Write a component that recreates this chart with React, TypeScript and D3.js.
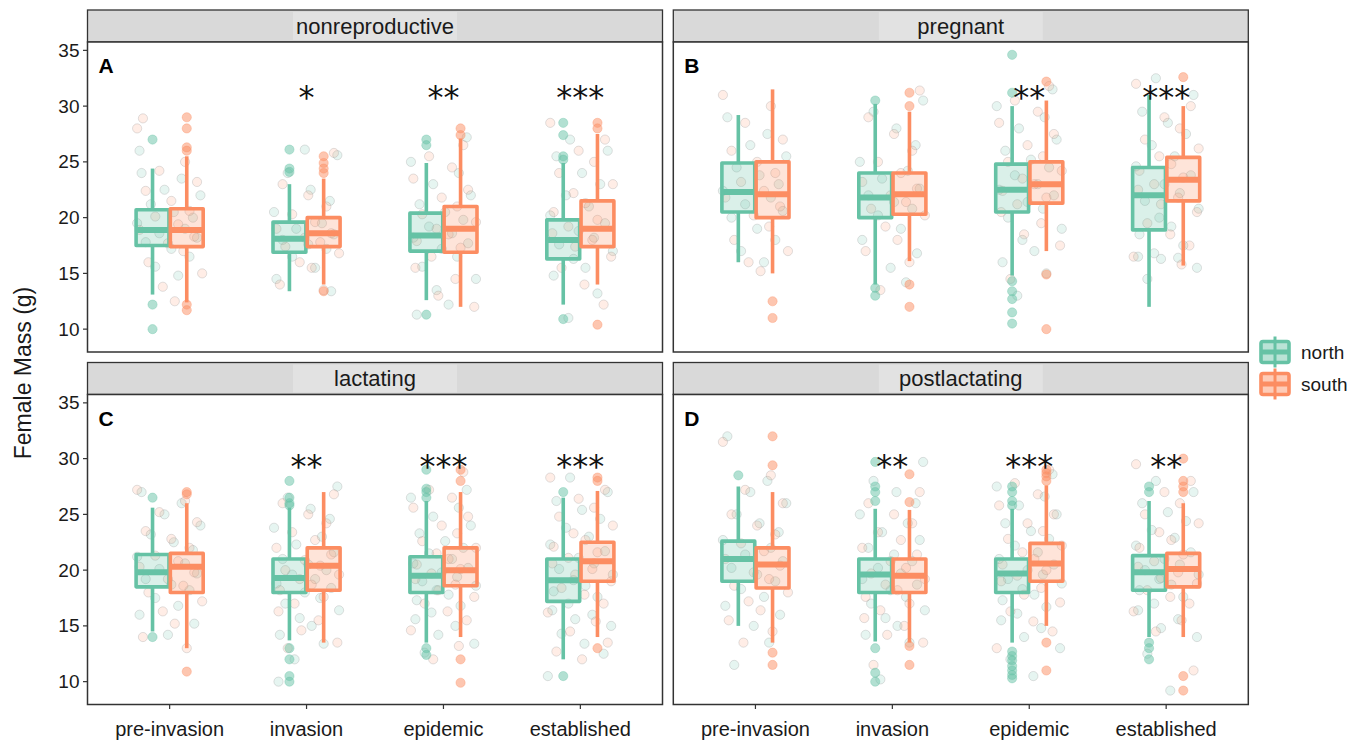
import * as d3 from "d3";

const facets = ["nonreproductive", "pregnant", "lactating", "postlactating"];
const facetTags = ["A", "B", "C", "D"];
const stages = ["pre-invasion", "invasion", "epidemic", "established"];
const regions = ["north", "south"];
const regionColors = ["#66c2a5", "#fc8d62"];
const yTicks = [10, 15, 20, 25, 30, 35];

// box stats per facet and stage: [lower whisker, q1, median, q3, upper whisker]
const northBoxes = [
  [[13.1, 17.5, 18.9, 20.7, 24.4], [13.4, 16.9, 18.1, 19.6, 23.0], [12.6, 17.0, 18.4, 20.4, 24.9], [12.2, 16.3, 18.0, 19.8, 24.9]],
  [[16.0, 20.5, 22.3, 24.9, 29.2], [14.0, 20.0, 21.8, 24.0, 30.2], [14.8, 20.5, 22.5, 24.8, 30.0], [12.0, 18.9, 22.0, 24.5, 31.0]],
  [[14.5, 18.5, 19.8, 21.4, 25.6], [13.7, 18.0, 19.3, 21.0, 25.6], [13.5, 18.0, 19.5, 21.2, 26.2], [12.0, 17.2, 19.1, 21.0, 26.5]],
  [[15.0, 19.0, 21.0, 22.6, 27.5], [13.6, 18.0, 19.6, 21.0, 25.5], [13.5, 18.0, 19.7, 21.0, 25.5], [14.0, 18.2, 19.8, 21.3, 26.2]],
];
const southBoxes = [
  [[12.4, 17.4, 18.9, 20.8, 25.5], [14.0, 17.4, 18.6, 20.0, 23.5], [12.0, 16.9, 19.0, 21.0, 27.1], [14.0, 17.4, 19.0, 21.5, 27.5]],
  [[15.0, 20.0, 22.1, 25.0, 31.5], [16.1, 20.3, 22.1, 24.0, 29.5], [17.0, 21.3, 23.0, 25.0, 30.5], [15.7, 21.5, 23.4, 25.4, 30.0]],
  [[13.0, 18.0, 20.3, 21.5, 26.0], [13.5, 18.2, 20.4, 22.0, 27.0], [14.0, 18.6, 20.0, 22.0, 27.0], [14.0, 19.0, 20.8, 22.5, 27.1]],
  [[13.5, 18.4, 20.5, 22.0, 27.0], [13.5, 18.0, 19.5, 21.0, 25.4], [15.0, 19.0, 20.6, 22.4, 27.6], [14.0, 18.5, 20.1, 21.5, 26.0]],
];

const northOutliers = [
  [[27.0, 12.2, 10.0], [26.1, 24.4, 24.1], [27.0, 26.5, 11.3], [28.5, 27.4, 25.5, 25.2, 10.9]],
  [[], [30.5, 13.7, 13.0], [34.6, 31.2, 14.3, 13.4, 12.7, 11.5, 10.5], []],
  [[26.5, 14.0], [28.0, 26.5, 26.0, 25.8, 13.0, 12.0, 10.5, 10.0], [29.0, 27.3, 27.0, 26.5, 13.0, 12.4], [27.0, 10.5]],
  [[28.5], [29.7, 27.5, 27.0, 26.2, 13.0, 10.8, 10.0], [27.5, 27.0, 26.2, 25.8, 12.7, 12.3, 11.9, 11.4, 11.0, 10.6, 10.3], [27.5, 27.0, 13.5, 13.0, 12.0]],
];
const southOutliers = [
  [[29.0, 28.0, 26.3, 26.0, 12.2, 11.7], [25.5, 24.9, 24.4, 24.0, 13.4], [28.0, 27.4], [28.5, 28.0, 10.4]],
  [[12.5, 11.0], [31.2, 30.0, 14.0, 12.0], [32.2, 14.9, 10.0], [32.6]],
  [[27.0, 26.8, 10.9], [], [29.0, 28.0, 12.0, 9.9], [28.3, 28.0, 13.0]],
  [[32.0, 29.4, 12.6, 11.5], [28.6, 26.1, 13.2, 11.5], [29.0, 28.7, 28.4, 28.0, 13.5, 11.0], [30.0, 28.0, 27.5, 27.0, 10.5, 9.2]],
];

// individual (jittered) observations, read roughly off the cloud
const northPoints = [
  [
    [24.0, 23.5, 22.5, 22.0, 21.2, 20.5, 20.0, 19.5, 19.0, 18.6, 18.2, 17.8, 17.2, 16.5, 15.6, 14.8, 26.0],
    [25.6, 24.0, 22.5, 21.5, 20.5, 19.5, 19.0, 18.5, 18.0, 17.6, 17.2, 16.5, 15.5, 14.5, 13.4, 26.1],
    [27.2, 25.0, 24.0, 23.0, 22.0, 21.2, 20.5, 19.8, 19.2, 18.6, 18.2, 17.7, 17.2, 16.5, 15.6, 14.5, 13.5, 12.2, 11.3],
    [27.0, 26.0, 25.5, 24.0, 23.0, 22.0, 21.0, 20.2, 19.5, 18.8, 18.2, 17.6, 17.0, 16.3, 15.5, 14.8, 13.2, 11.0],
  ],
  [
    [29.0, 27.5, 26.5, 25.5, 24.5, 23.8, 23.0, 22.4, 21.8, 21.2, 20.6, 20.0, 19.0, 18.0, 17.0, 16.0],
    [30.5, 29.5, 28.0, 26.5, 25.0, 24.2, 23.5, 22.6, 22.0, 21.4, 20.8, 20.2, 19.0, 18.0, 16.8, 15.5, 14.2],
    [31.5, 30.0, 29.0, 28.0, 27.0, 26.0, 25.2, 24.5, 23.8, 23.0, 22.5, 22.0, 21.4, 20.8, 20.0, 19.0, 18.0, 17.0, 16.0, 15.0, 13.0],
    [32.5, 31.0, 29.5, 28.5, 27.5, 26.5, 25.5, 24.6, 23.8, 23.0, 22.2, 21.5, 20.8, 20.0, 19.2, 18.5, 17.5, 16.8, 16.5, 16.4, 16.3, 15.5, 14.5],
  ],
  [
    [27.0, 26.0, 25.0, 24.0, 23.2, 22.5, 21.8, 21.2, 20.6, 20.1, 19.7, 19.2, 18.7, 18.2, 17.5, 16.8, 16.0, 15.2, 14.2],
    [27.5, 26.5, 25.5, 24.6, 23.8, 23.0, 22.3, 21.6, 21.0, 20.5, 20.0, 19.6, 19.2, 18.8, 18.4, 18.0, 17.5, 17.0, 16.4, 15.7, 15.0, 14.2, 13.4, 12.0, 10.0],
    [27.2, 26.5, 25.6, 24.8, 24.0, 23.3, 22.6, 22.0, 21.5, 21.0, 20.6, 20.2, 19.8, 19.4, 19.0, 18.6, 18.2, 17.8, 17.3, 16.8, 16.2, 15.6, 15.0, 14.2, 13.4, 12.6],
    [28.3, 27.0, 26.2, 25.4, 24.6, 23.8, 23.0, 22.3, 21.7, 21.1, 20.6, 20.1, 19.6, 19.1, 18.6, 18.1, 17.6, 17.0, 16.4, 16.0, 15.6, 15.0, 14.3, 13.4, 12.5, 10.5],
  ],
  [
    [32.0, 28.0, 27.0, 26.0, 25.0, 24.2, 23.4, 22.7, 22.0, 21.4, 20.8, 20.2, 19.6, 19.0, 18.3, 17.6, 16.8, 16.0, 15.0, 13.5, 11.5],
    [29.7, 28.0, 27.0, 26.0, 25.0, 24.2, 23.4, 22.7, 22.0, 21.4, 20.8, 20.2, 19.7, 19.2, 18.7, 18.2, 17.6, 17.0, 16.4, 15.7, 15.0, 14.2, 13.5, 10.2],
    [28.6, 27.5, 26.6, 25.8, 25.0, 24.2, 23.5, 22.8, 22.2, 21.6, 21.0, 20.5, 20.0, 19.6, 19.2, 18.8, 18.3, 17.8, 17.3, 16.7, 16.1, 15.5, 14.8, 14.0, 13.0, 12.0, 10.5],
    [28.0, 27.0, 26.0, 25.2, 24.4, 23.6, 22.9, 22.2, 21.6, 21.0, 20.5, 20.0, 19.6, 19.2, 18.7, 18.2, 17.6, 17.0, 16.4, 15.6, 14.8, 14.0, 12.5, 9.2],
  ],
];
const southPoints = [
  [
    [28.0, 25.0, 24.2, 23.2, 22.4, 21.5, 20.6, 20.1, 19.4, 18.9, 18.3, 17.7, 17.0, 16.0, 15.0, 13.8, 12.5, 28.9],
    [25.8, 23.0, 22.0, 21.0, 20.3, 19.6, 19.0, 18.6, 18.2, 17.8, 17.4, 16.8, 16.0, 15.5, 14.0, 13.5],
    [26.5, 25.5, 24.5, 23.5, 22.5, 21.8, 21.0, 20.3, 19.6, 19.0, 18.5, 17.9, 17.3, 16.5, 15.5, 14.5, 13.0, 12.0],
    [28.5, 27.0, 26.0, 25.0, 24.0, 23.0, 22.2, 21.3, 20.5, 19.8, 19.2, 18.6, 18.0, 17.4, 16.5, 15.5, 14.0, 12.2],
  ],
  [
    [31.0, 30.0, 28.5, 27.0, 26.0, 25.0, 24.0, 23.2, 22.4, 21.8, 21.0, 20.2, 19.2, 18.0, 17.0, 16.0, 15.2],
    [31.4, 29.0, 27.5, 26.0, 25.0, 24.0, 23.2, 22.6, 22.0, 21.4, 20.8, 20.2, 19.2, 18.0, 17.0, 16.0, 13.5],
    [31.8, 30.5, 29.5, 28.5, 27.5, 26.5, 25.5, 25.0, 24.2, 23.5, 23.0, 22.4, 21.8, 21.2, 20.5, 19.5, 18.5, 17.5, 14.5],
    [32.0, 30.0, 29.0, 28.0, 27.0, 26.2, 25.5, 24.8, 24.2, 23.6, 23.0, 22.5, 21.8, 21.2, 20.5, 19.5, 18.5, 17.5, 16.5, 15.8],
  ],
  [
    [27.2, 26.2, 25.2, 24.3, 23.5, 22.8, 22.0, 21.3, 20.8, 20.3, 19.8, 19.2, 18.6, 18.0, 17.2, 16.3, 15.2, 14.0, 13.0],
    [26.8, 26.0, 25.0, 24.2, 23.4, 22.7, 22.0, 21.4, 20.9, 20.4, 20.0, 19.6, 19.2, 18.7, 18.2, 17.6, 17.0, 16.3, 15.5, 14.6, 13.5, 13.0],
    [28.8, 27.2, 26.5, 25.6, 24.8, 24.0, 23.3, 22.6, 22.0, 21.5, 21.0, 20.5, 20.1, 19.7, 19.2, 18.7, 18.2, 17.6, 17.0, 16.3, 15.5, 14.6, 13.2, 12.0],
    [28.3, 27.2, 26.4, 25.6, 24.8, 24.0, 23.3, 22.7, 22.1, 21.6, 21.1, 20.6, 20.1, 19.6, 19.0, 18.4, 17.8, 17.0, 16.2, 15.4, 14.5, 13.5, 12.7, 12.0],
  ],
  [
    [31.5, 28.5, 27.2, 26.0, 25.0, 24.0, 23.2, 22.4, 21.7, 21.0, 20.4, 19.8, 19.2, 18.6, 18.0, 17.2, 16.4, 15.5, 14.5, 13.5],
    [27.0, 26.0, 25.0, 24.2, 23.4, 22.7, 22.0, 21.4, 20.8, 20.2, 19.7, 19.2, 18.7, 18.2, 17.6, 17.0, 16.4, 15.7, 15.0, 14.2, 13.5, 11.5],
    [29.0, 27.8, 26.8, 25.8, 25.0, 24.2, 23.5, 22.8, 22.2, 21.6, 21.0, 20.5, 20.0, 19.5, 19.0, 18.4, 17.8, 17.1, 16.3, 15.4, 14.5, 13.0],
    [29.5, 28.0, 27.0, 26.0, 25.0, 24.2, 23.4, 22.7, 22.0, 21.4, 20.8, 20.3, 19.8, 19.3, 18.8, 18.2, 17.6, 17.0, 16.3, 15.5, 14.5, 11.0],
  ],
];

// significance marks per facet and stage
const stars = [
  ["", "*", "**", "***"],
  ["", "", "**", "***"],
  ["", "**", "***", "***"],
  ["", "**", "***", "**"],
];
const starLevel = [31.4, 31.4, 29.9, 29.9];

// horizontal jitter fractions (of half group width)
const jitter = [-0.82, 0.35, -0.15, 0.9, -0.55, 0.12, 0.68, -0.95, 0.45, -0.3, 0.8, -0.7, 0.05, 0.58, -0.42, 0.25, -0.88, 0.72, -0.05, 0.4, -0.62, 0.95, -0.2, 0.15, -0.78, 0.5, -0.35];

const W = 1362;
const H = 742;
const FONT = "'Liberation Sans', Arial, Helvetica, sans-serif";
const panelLeft = [87.5, 673.3];
const panelW = 575;
const stripTop = [10, 362.5];
const stripH = 32;
const panelH = 310;

const Panel = ({ fi }) => {
  const col = fi % 2;
  const row = Math.floor(fi / 2);
  const x0 = panelLeft[col];
  const top = stripTop[row] + stripH;
  const x = d3.scalePoint().domain(stages).range([x0, x0 + panelW]).padding(0.6);
  const y = d3.scaleLinear().domain([7.95, 35.75]).range([top + panelH, top]);
  const step = x.step();
  const boxW = 0.24 * step;
  const dodge = 0.125 * step;
  const boxSets = [northBoxes, southBoxes];
  const outSets = [northOutliers, southOutliers];
  const pointSets = [northPoints, southPoints];
  const stripCenter = x0 + panelW / 2;

  return (
    <g>
      {/* strip */}
      <rect x={x0} y={stripTop[row]} width={panelW} height={stripH} fill="#d9d9d9" stroke="#333" strokeWidth={1.3} />
      <rect x={stripCenter - 82} y={stripTop[row] + 2} width={164} height={stripH - 4} fill="#e2e2e2" />
      <text x={stripCenter} y={stripTop[row] + stripH / 2 + 7.5} textAnchor="middle" fontSize={22} fill="#1a1a1a" fontFamily={FONT}>
        {facets[fi]}
      </text>
      {/* panel */}
      <rect x={x0} y={top} width={panelW} height={panelH} fill="#fff" stroke="none" />

      {/* jittered points */}
      {stages.map((s, si) =>
        regions.map((r, ri) =>
          pointSets[ri][fi][si].map((v, k) => {
            const j = jitter[(k + ri * 7 + si * 3) % jitter.length];
            return (
              <circle
                key={`p${si}${ri}${k}`}
                cx={x(s) + j * 0.25 * step}
                cy={y(v)}
                r={4.6}
                fill={regionColors[ri]}
                fillOpacity={0.16}
                stroke="#9a9a9a"
                strokeOpacity={0.3}
                strokeWidth={1}
              />
            );
          })
        )
      )}

      {/* boxplots */}
      {stages.map((s, si) =>
        regions.map((r, ri) => {
          const [lo, q1, med, q3, hi] = boxSets[ri][fi][si];
          const cx = x(s) + (ri === 0 ? -dodge : dodge);
          const c = regionColors[ri];
          return (
            <g key={`b${si}${ri}`}>
              {outSets[ri][fi][si].map((v, k) => (
                <circle key={k} cx={cx} cy={y(v)} r={4.6} fill={c} fillOpacity={0.5} stroke={c} strokeOpacity={0.35} strokeWidth={1} />
              ))}
              <line x1={cx} x2={cx} y1={y(hi)} y2={y(q3)} stroke={c} strokeWidth={3.6} />
              <line x1={cx} x2={cx} y1={y(q1)} y2={y(lo)} stroke={c} strokeWidth={3.6} />
              <rect
                x={cx - boxW / 2}
                y={y(q3)}
                width={boxW}
                height={y(q1) - y(q3)}
                fill={c}
                fillOpacity={0.24}
                stroke={c}
                strokeWidth={3.6}
                strokeLinejoin="round"
              />
              <line x1={cx - boxW / 2} x2={cx + boxW / 2} y1={y(med)} y2={y(med)} stroke={c} strokeWidth={6} />
            </g>
          );
        })
      )}

      {/* significance */}
      {stages.map((s, si) =>
        stars[fi][si] ? (
          <text
            key={`s${si}`}
            x={x(s)}
            y={y(starLevel[fi]) + 17}
            textAnchor="middle"
            fontSize={32}
            fontFamily="'DejaVu Sans', sans-serif"
            fill="#111"
          >
            {stars[fi][si]}
          </text>
        ) : null
      )}

      <rect x={x0} y={top} width={panelW} height={panelH} fill="none" stroke="#333" strokeWidth={1.5} />
      <text x={x0 + 11} y={top + 31} fontSize={21} fontWeight="bold" fontFamily={FONT} fill="#000">
        {facetTags[fi]}
      </text>

      {/* y axis on left column */}
      {col === 0 &&
        yTicks.map((t) => (
          <g key={`y${t}`}>
            <line x1={x0 - 4.5} x2={x0} y1={y(t)} y2={y(t)} stroke="#333" strokeWidth={1.2} />
            <text x={x0 - 8} y={y(t) + 6.5} textAnchor="end" fontSize={19} fontFamily={FONT} fill="#1a1a1a">
              {t}
            </text>
          </g>
        ))}

      {/* x axis on bottom row */}
      {row === 1 &&
        stages.map((s) => (
          <g key={`x${s}`}>
            <line x1={x(s)} x2={x(s)} y1={top + panelH} y2={top + panelH + 4.5} stroke="#333" strokeWidth={1.2} />
            <text x={x(s)} y={top + panelH + 31} textAnchor="middle" fontSize={20} fontFamily={FONT} fill="#1a1a1a">
              {s}
            </text>
          </g>
        ))}
    </g>
  );
};

const LegendKey = ({ ri, cy }) => {
  const c = regionColors[ri];
  const kx = 1261;
  const kw = 28;
  const kh = 21;
  return (
    <g>
      <line x1={kx + kw / 2} x2={kx + kw / 2} y1={cy - kh / 2 - 5} y2={cy + kh / 2 + 5} stroke={c} strokeWidth={3} />
      <rect x={kx} y={cy - kh / 2} width={kw} height={kh} rx={2} fill={c} fillOpacity={0.45} stroke={c} strokeWidth={3.6} />
      <line x1={kx} x2={kx + kw} y1={cy} y2={cy} stroke={c} strokeWidth={5} />
      <text x={1301} y={cy + 6.5} fontSize={19} fontFamily={FONT} fill="#1a1a1a">
        {regions[ri]}
      </text>
    </g>
  );
};

export default function App() {
  return (
    <svg width={W} height={H} style={{ position: "absolute", left: 0, top: 0, background: "#fff" }}>
      <rect width={W} height={H} fill="#fff" />
      {facets.map((f, fi) => (
        <Panel key={f} fi={fi} />
      ))}
      <text
        transform={`translate(31, 373) rotate(-90)`}
        textAnchor="middle"
        fontSize={23}
        fontFamily={FONT}
        fill="#1a1a1a"
      >
        Female Mass (g)
      </text>
      <LegendKey ri={0} cy={352} />
      <LegendKey ri={1} cy={384} />
    </svg>
  );
}
